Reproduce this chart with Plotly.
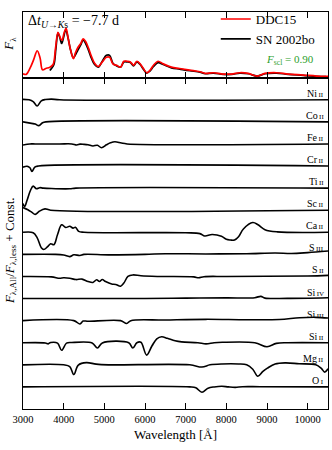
import plotly.graph_objects as go
from plotly.subplots import make_subplots

# top panel: model vs observed spectrum (normalised flux)
ddc_wave = [3000, 3080, 3170, 3260, 3350, 3420, 3480, 3560, 3660, 3740, 3800, 3860, 3920, 3960,
            4010, 4060, 4110, 4170, 4240, 4290, 4350, 4420, 4480, 4540, 4610, 4680, 4760, 4850,
            4950, 5050, 5130, 5210, 5300, 5400, 5480, 5560, 5640, 5720, 5800, 5880, 5960, 6040,
            6120, 6210, 6320, 6450, 6650, 6850, 7100, 7350, 7480, 7680, 7920, 8130, 8330, 8540,
            8760, 8950, 9230, 9520, 9890, 10220, 10500]
ddc_flux = [0.06, 0.05, 0.14, 0.27, 0.41, 0.3, 0.12, 0.14, 0.16, 0.2, 0.45, 0.69, 0.6, 0.57,
            0.68, 0.75, 0.6, 0.42, 0.29, 0.38, 0.46, 0.52, 0.59, 0.55, 0.45, 0.33, 0.22, 0.17,
            0.24, 0.31, 0.31, 0.21, 0.19, 0.16, 0.25, 0.25, 0.24, 0.19, 0.25, 0.21, 0.14, 0.075,
            0.11, 0.19, 0.25, 0.21, 0.16, 0.14, 0.115, 0.09, 0.065, 0.075, 0.055, 0.055, 0.075, 0.065,
            0.025, 0.065, 0.075, 0.055, 0.04, 0.025, 0.02]

obs_wave = [3660, 3700, 3760, 3810, 3860, 3910, 3950, 4000, 4050, 4110, 4170, 4240, 4300, 4360,
            4420, 4480, 4540, 4610, 4680, 4760, 4850, 4950, 5050, 5130, 5210, 5300, 5400, 5480,
            5560, 5640, 5720, 5800, 5880, 5960, 6040, 6120, 6210, 6320, 6450, 6650, 6850, 7100,
            7350, 7480, 7680, 7920, 8130, 8330, 8540, 8760, 8950, 9230, 9520, 9890, 10220, 10450]
obs_flux = [0.11, 0.14, 0.2, 0.45, 0.68, 0.6, 0.52, 0.62, 0.73, 0.6, 0.42, 0.3, 0.36, 0.43,
            0.5, 0.57, 0.52, 0.42, 0.3, 0.2, 0.16, 0.25, 0.34, 0.34, 0.22, 0.18, 0.16, 0.24,
            0.24, 0.23, 0.18, 0.24, 0.2, 0.13, 0.07, 0.1, 0.17, 0.23, 0.2, 0.15, 0.13, 0.105,
            0.085, 0.06, 0.07, 0.05, 0.05, 0.07, 0.06, 0.025, 0.06, 0.07, 0.05, 0.035, 0.02, 0.015]

# bottom panel: F(all) / F(all but one ion), one curve per ion
ni_wave = [3000, 3150, 3250, 3350, 3450, 3550, 3700, 3900, 10500]
ni_ratio = [1.02, 1.0, 0.92, 0.72, 0.95, 1.01, 1.03, 1.0, 1.0]

co_wave = [3000, 3210, 3300, 3390, 3480, 3560, 10500]
co_ratio = [1.0, 0.93, 0.9, 0.83, 0.96, 1.0, 1.0]

fe_wave = [3000, 3170, 3300, 3900, 4200, 4320, 4400, 4500, 4600, 4720, 4830, 4930, 5050, 5150,
           5260, 5420, 5560, 10500]
fe_ratio = [0.95, 1.0, 1.0, 1.0, 1.0, 0.95, 0.99, 0.98, 0.96, 0.91, 0.94, 0.83, 0.96, 1.05,
            1.1, 1.04, 1.0, 1.0]

cr_wave = [3000, 3100, 3170, 3220, 3290, 3380, 10500]
cr_ratio = [0.95, 0.99, 0.92, 0.75, 0.95, 1.0, 1.0]

ti_wave = [3000, 3040, 3100, 3180, 3250, 3330, 3410, 3500, 3700, 4150, 4300, 10500]
ti_ratio = [0.3, 0.16, 0.45, 0.88, 1.09, 0.97, 1.02, 1.0, 0.98, 0.97, 1.0, 1.0]

sc_wave = [3000, 3120, 3220, 3300, 3400, 3540, 3680, 10500]
sc_ratio = [1.12, 1.02, 0.9, 0.81, 0.95, 1.06, 1.0, 1.0]

ca_wave = [3000, 3250, 3350, 3450, 3510, 3600, 3680, 3760, 3850, 3950, 4050, 4150, 4230, 4290,
           4370, 4500, 7000, 7350, 7470, 7650, 7880, 8000, 8100, 8200, 8300, 8420, 8650, 8780,
           8950, 9250, 10500]
ca_ratio = [1.0, 0.98, 0.75, 0.3, 0.22, 0.34, 0.48, 0.44, 0.9, 1.34, 1.22, 1.27, 1.19, 1.23,
            1.04, 1.0, 0.98, 0.94, 0.83, 0.9, 0.82, 0.68, 0.65, 0.65, 0.8, 1.15, 1.44, 1.34,
            1.12, 1.02, 1.0]

s3_wave = [3000, 3800, 4000, 4150, 4250, 4400, 4500, 5100, 6000, 6500, 7500, 8500, 9200, 9600,
           10000, 10500]
s3_ratio = [1.0, 1.0, 0.97, 0.9, 0.98, 0.95, 1.0, 0.98, 1.0, 1.03, 1.02, 1.03, 1.06, 1.04,
            1.08, 1.15]

s2_wave = [3000, 3700, 3900, 4000, 4150, 4300, 4450, 4600, 4720, 4810, 4880, 4950, 5030, 5180,
           5280, 5400, 5480, 5580, 5700, 5900, 6300, 7200, 7320, 7450, 8000, 10000, 10500]
s2_ratio = [1.0, 0.98, 0.92, 0.94, 0.92, 0.86, 0.88, 0.77, 0.73, 0.85, 0.77, 0.86, 0.77, 0.66,
            0.64, 0.56, 0.7, 1.0, 1.07, 1.03, 1.0, 0.98, 0.94, 0.99, 1.0, 1.02, 1.05]

si4_wave = [3000, 6000, 7000, 8000, 8700, 8850, 8950, 9500, 10500]
si4_ratio = [1.0, 1.0, 1.02, 1.03, 1.04, 1.1, 1.02, 1.01, 1.04]

si3_wave = [3000, 4250, 4400, 4480, 4600, 5400, 5550, 5650, 6500, 7500, 8500, 9300, 9800,
            10200, 10500]
si3_ratio = [1.0, 1.0, 0.85, 0.98, 0.97, 1.0, 0.87, 1.0, 1.03, 1.06, 1.04, 1.05, 1.13,
             1.15, 1.12]

si2_wave = [3000, 3550, 3620, 3680, 3850, 3950, 4070, 4200, 4700, 4830, 4950, 5600, 5700, 5800,
            5900, 6040, 6170, 6290, 6410, 6550, 6740, 6900, 7300, 7500, 7700, 7900, 8700, 9000,
            9230, 9500, 10500]
si2_ratio = [1.0, 0.99, 0.95, 1.01, 0.98, 0.66, 0.98, 1.01, 0.99, 0.76, 0.99, 1.0, 0.76, 1.0,
             1.02, 0.44, 0.85, 1.18, 1.27, 1.2, 1.09, 1.04, 1.0, 0.95, 1.0, 1.02, 1.0, 0.82,
             0.97, 1.0, 1.0]

mg_wave = [3000, 4000, 4150, 4250, 4360, 4560, 4800, 5100, 7100, 7400, 7600, 7890, 8300, 8500,
           8650, 8775, 8900, 9010, 9200, 9450, 9790, 10200, 10330, 10420, 10500]
mg_ratio = [1.0, 1.0, 0.92, 0.56, 0.99, 1.1, 1.03, 1.0, 1.0, 0.9, 1.0, 1.04, 1.04, 1.0,
            0.8, 0.48, 0.7, 0.85, 1.04, 1.09, 1.05, 1.0, 0.85, 0.67, 0.82]

o_wave = [3000, 7100, 7250, 7400, 7550, 7700, 7890, 8050, 8220, 8400, 8830, 10500]
o_ratio = [1.0, 1.0, 0.96, 0.76, 0.94, 1.0, 1.03, 1.0, 0.98, 1.01, 1.01, 1.0]

ion_names = ["Ni", "Co", "Fe", "Cr", "Ti", "Sc", "Ca", "S", "S", "Si", "Si", "Si", "Mg", "O"]
ion_stages = ["II", "II", "II", "II", "II", "II", "II", "III", "II", "IV", "III", "II", "II", "I"]
ion_waves = [ni_wave, co_wave, fe_wave, cr_wave, ti_wave, sc_wave, ca_wave, s3_wave, s2_wave,
             si4_wave, si3_wave, si2_wave, mg_wave, o_wave]
ion_ratios = [ni_ratio, co_ratio, fe_ratio, cr_ratio, ti_ratio, sc_ratio, ca_ratio, s3_ratio,
              s2_ratio, si4_ratio, si3_ratio, si2_ratio, mg_ratio, o_ratio]

x_ticks = [3000, 4000, 5000, 6000, 7000, 8000, 9000, 10000]
x_tick_text = ["3000", "4000", "5000", "6000", "7000", "8000", "9000", "10000"]

FONT = "Liberation Serif"

fig = make_subplots(rows=2, cols=1, shared_xaxes=True, vertical_spacing=0,
                    row_heights=[67, 338])

fig.add_trace(go.Scatter(x=obs_wave, y=obs_flux, mode="lines", name="SN 2002bo",
                         line=dict(color="black", width=1.7, shape="spline"),
                         legendrank=2), row=1, col=1)
fig.add_trace(go.Scatter(x=ddc_wave, y=ddc_flux, mode="lines", name="DDC15",
                         line=dict(color="#ff0000", width=1.7, shape="spline"),
                         legendrank=1), row=1, col=1)

n_ion = len(ion_names)
for i, (w, r) in enumerate(zip(ion_waves, ion_ratios)):
    offset = n_ion - 1 - i
    fig.add_trace(go.Scatter(x=w, y=[v - 1 + offset for v in r], mode="lines",
                             showlegend=False,
                             line=dict(color="black", width=1.6, shape="spline")),
                  row=2, col=1)
    fig.add_annotation(x=10430, y=offset, xref="x2", yref="y2", xanchor="right",
                       yanchor="bottom", showarrow=False, borderpad=0,
                       text=f"{ion_names[i]}<span style='font-size:7px'>&#8201;{ion_stages[i]}</span>",
                       font=dict(family=FONT, size=10, color="black"))

fig.update_xaxes(range=[3000, 10500], tickvals=x_ticks, ticktext=x_tick_text, ticks="inside",
                 ticklen=6, tickcolor="black", mirror="ticks", showline=True,
                 linecolor="black", linewidth=1, showgrid=False, zeroline=False)
fig.update_xaxes(showticklabels=False, row=1, col=1)
fig.update_xaxes(showticklabels=True, tickfont=dict(family=FONT, size=10.5, color="black"),
                 title=dict(text="Wavelength [Å]", font=dict(family=FONT, size=13, color="black"),
                            standoff=6),
                 row=2, col=1)
fig.update_yaxes(showticklabels=False, ticks="", showline=True, linecolor="black",
                 linewidth=1, mirror=True, showgrid=False, zeroline=False)
fig.update_yaxes(range=[0, 1.0], row=1, col=1)
fig.update_yaxes(range=[-1, 14], row=2, col=1)

fig.add_annotation(x=3080, y=0.86, xref="x", yref="y", xanchor="left", yanchor="middle",
                   showarrow=False,
                   text="Δ<i>t</i><sub><i>U</i>→<i>K</i>s</sub> = −7.7 d",
                   font=dict(family=FONT, size=14, color="black"))
fig.add_annotation(x=10200, y=0.27, xref="x", yref="y", xanchor="right", yanchor="middle",
                   showarrow=False, text="<i>F</i><sub>scl</sub> = 0.90",
                   font=dict(family=FONT, size=11, color="#2ca02c"))
fig.add_annotation(x=-0.043, y=0.92, xref="paper", yref="paper", textangle=-90,
                   showarrow=False, xanchor="center", yanchor="middle",
                   text="<i>F</i><sub>λ</sub>",
                   font=dict(family=FONT, size=13, color="black"))
fig.add_annotation(x=-0.043, y=0.40, xref="paper", yref="paper", textangle=-90,
                   showarrow=False, xanchor="center", yanchor="middle",
                   text="<i>F</i><sub>λ,All</sub>/<i>F</i><sub>λ,less</sub> + Const.",
                   font=dict(family=FONT, size=13, color="black"))

fig.update_layout(
    width=332, height=450,
    margin=dict(l=23, r=4, t=4, b=41),
    paper_bgcolor="white", plot_bgcolor="white",
    font=dict(family=FONT, color="black"),
    legend=dict(x=0.632, y=1.02, xanchor="left", yanchor="top",
                bgcolor="rgba(0,0,0,0)", font=dict(family=FONT, size=13, color="black"),
                itemwidth=30, tracegroupgap=0),
)

# the page body has a default 8px margin; drop it so the figure fills the window
fig.write_html("out.html", config={"displayModeBar": False},
               post_script="document.body.style.margin='0';")
